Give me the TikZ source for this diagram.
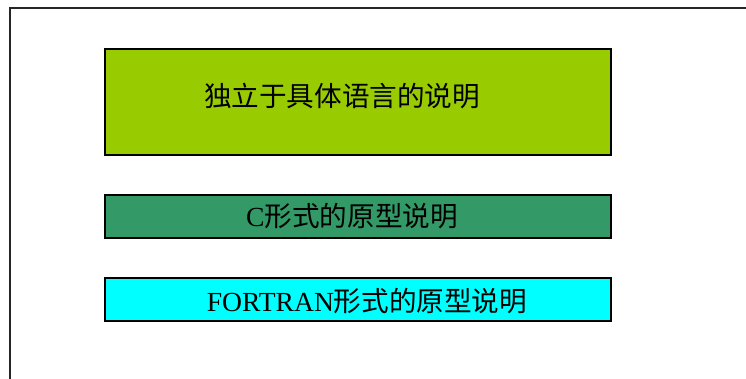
\documentclass[tikz,border=0pt]{standalone}
\usepackage{fontspec}
\setmainfont{Liberation Serif}
\newfontfamily\cjk{Noto Sans CJK SC}
\usepackage{xcolor}
\usetikzlibrary{positioning}
\definecolor{leafgreen}{HTML}{99CC00}
\definecolor{seagreen}{HTML}{339966}
\definecolor{brightcyan}{HTML}{00FFFF}
\tikzset{
langbox/.style={draw=black, line width=1.3pt, minimum width=506pt, inner sep=0pt},
boxtext/.style={inner sep=0pt, font=\fontsize{27.6}{30}\selectfont},
frame line/.style={draw=black!85, line width=2pt}
}

\begin{document}
\begin{tikzpicture}[x=1pt,y=-1pt]
\useasboundingbox (0,0) rectangle (746,378);

% Coordinates
\coordinate (frame_bottom) at (9.5,380);
\coordinate (frame_corner) at (9.5,8);
\coordinate (frame_right) at (748,8);

% Frame
\draw[frame line] (frame_bottom) -- (frame_corner) -- (frame_right);

% Boxes
\node[langbox, fill=leafgreen, minimum height=106pt] (independent) at (358,102) {};
\node[langbox, fill=seagreen, minimum height=43pt] (c_proto) at (358,216.5) {};
\node[langbox, fill=brightcyan, minimum height=43pt] (fortran_proto) at (358,299.5) {};

% Texts
\node[boxtext] (independent_text) at ([xshift=-16pt,yshift=6pt]independent.center) {\cjk 独立于具体语言的说明};
\node[boxtext] (c_text) at ([xshift=-6pt]c_proto.center) {C{\cjk 形式的原型说明}};
\node[boxtext] (fortran_text) at ([xshift=9pt,yshift=-2pt]fortran_proto.center) {FORTRAN{\cjk 形式的原型说明}};

\end{tikzpicture}
\end{document}
